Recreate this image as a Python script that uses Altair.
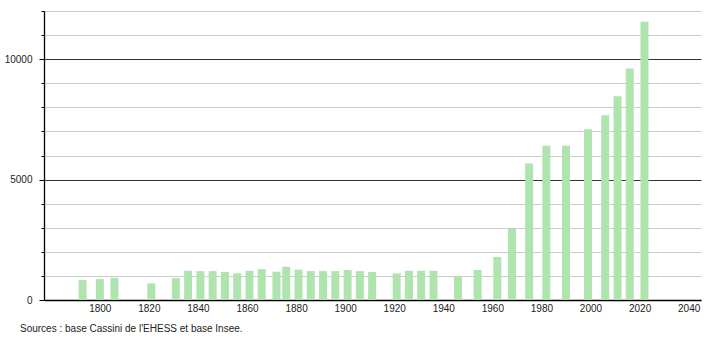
import altair as alt
import pandas as pd

years = [1793, 1800, 1806, 1821, 1831, 1836, 1841, 1846, 1851, 1856, 1861, 1866,
         1872, 1876, 1881, 1886, 1891, 1896, 1901, 1906, 1911, 1921, 1926, 1931,
         1936, 1946, 1954, 1962, 1968, 1975, 1982, 1990, 1999, 2006, 2011, 2016, 2022]
population = [830, 870, 925, 690, 910, 1215, 1200, 1200, 1165, 1110, 1215, 1285,
              1175, 1380, 1260, 1200, 1200, 1200, 1245, 1200, 1160, 1105, 1215, 1215,
              1215, 995, 1245, 1785, 2975, 5670, 6400, 6400, 7095, 7675, 8465, 9610, 11550]
x_ticks = list(range(1800, 2041, 20))
y_ticks = list(range(0, 12001, 1000))
source_text = ["Sources : base Cassini de l'EHESS et base Insee."]

df = pd.DataFrame({"year": years, "pop": population})
src = pd.DataFrame({"t": source_text})

FONT = "Liberation Sans"

bars = alt.Chart(df).mark_bar(size=8, color="#afe4af").encode(
    x=alt.X("year:Q",
            scale=alt.Scale(domain=[1779.3, 2043], nice=False, zero=False),
            axis=alt.Axis(values=x_ticks, format="d", title=None, grid=False,
                          ticks=False, domainColor="#000", domainWidth=1.3,
                          labelFont=FONT, labelFontSize=10, labelColor="#222",
                          labelPadding=3)),
    y=alt.Y("pop:Q",
            scale=alt.Scale(domain=[0, 12000], nice=False),
            axis=alt.Axis(values=y_ticks, format="d", title=None,
                          labelExpr="datum.value % 5000 === 0 ? datum.label : ''",
                          gridColor={"condition": {"test": "datum.value % 5000 === 0", "value": "#333"}, "value": "#cccccc"},
                          gridWidth=1,
                          tickSize={"condition": {"test": "datum.value % 5000 === 0", "value": 5}, "value": 3},
                          tickColor="#000", domainColor="#000", domainWidth=1.3,
                          labelFont=FONT, labelFontSize=10, labelColor="#222",
                          labelPadding=7)),
)

caption = alt.Chart(src).mark_text(align="left", baseline="middle", font=FONT,
                                   fontSize=10, color="#222").encode(
    x=alt.value(-24), y=alt.value(318), text="t:N")

chart = alt.layer(bars, caption).properties(
    width=657, height=289,
    autosize="none",
    padding={"left": 44, "top": 11, "right": 9, "bottom": 40},
).configure_view(stroke=None)

chart.save("out.html", embed_options={"renderer": "svg", "actions": False})
